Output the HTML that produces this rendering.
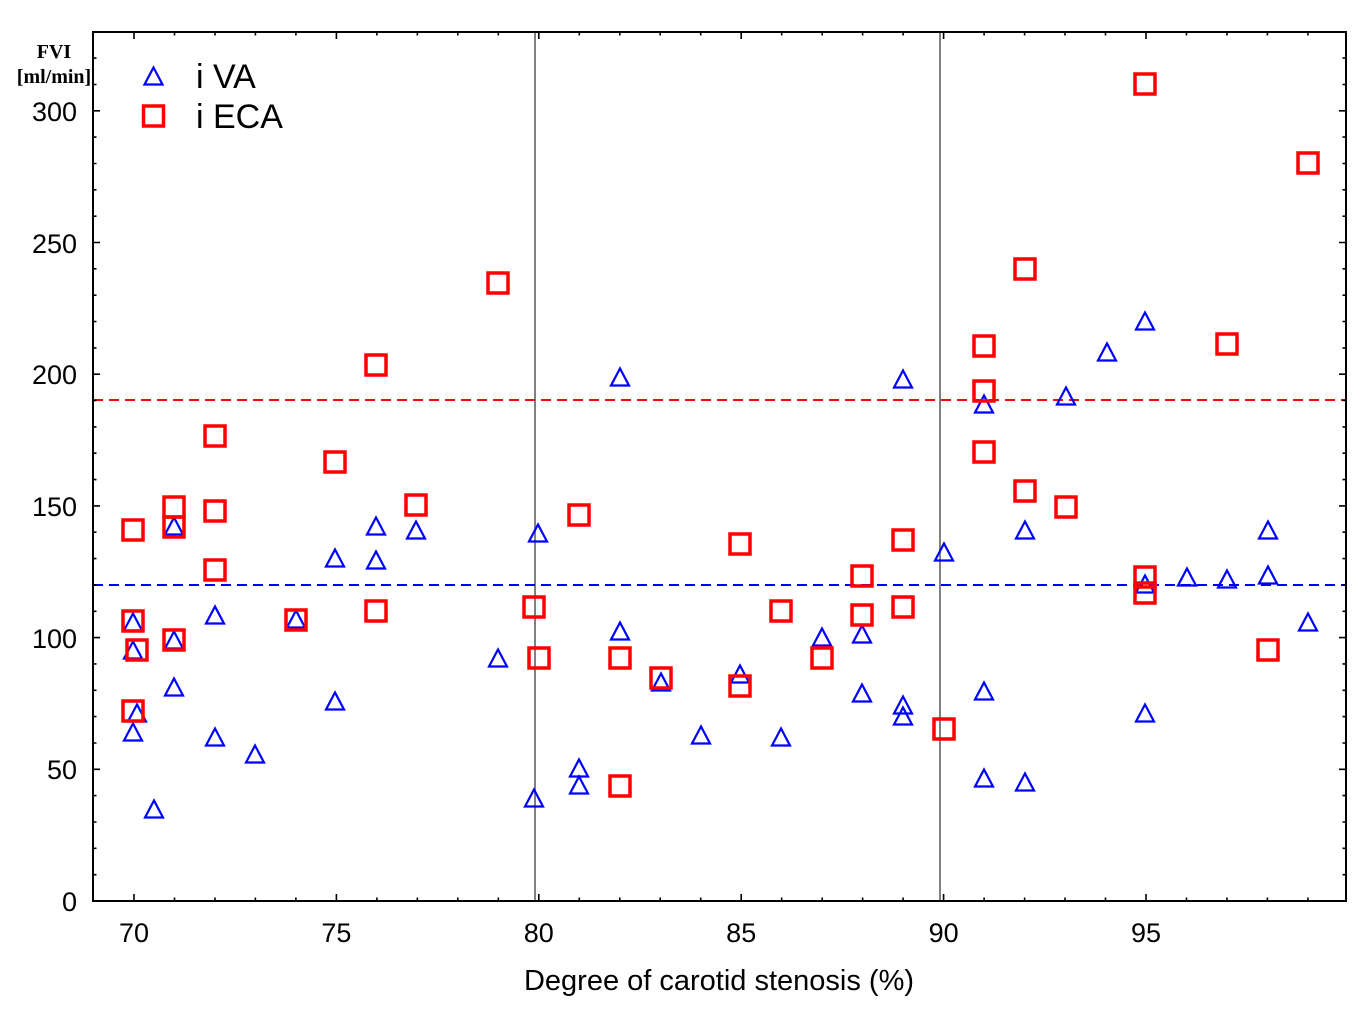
<!DOCTYPE html>
<html><head><meta charset="utf-8">
<style>html,body{margin:0;padding:0;background:#fff}svg{display:block}</style>
</head>
<body>
<svg width="1361" height="1010" viewBox="0 0 1361 1010" xmlns="http://www.w3.org/2000/svg">
<rect x="0" y="0" width="1361" height="1010" fill="#fff"/>
<line x1="535" y1="32" x2="535" y2="901" stroke="#808080" stroke-width="2"/>
<line x1="940" y1="32" x2="940" y2="901" stroke="#808080" stroke-width="2"/>
<line x1="93" y1="400" x2="1346" y2="400" stroke="#ff0000" stroke-width="2" stroke-dasharray="10 6"/>
<line x1="93" y1="585" x2="1346" y2="585" stroke="#0000ff" stroke-width="2" stroke-dasharray="10 6"/>
<g stroke="#000" stroke-width="1.6" fill="none">
<path d="M134 901v-7M174.5 901v-3.5M215 901v-3.5M255.4 901v-3.5M295.9 901v-3.5M336.4 901v-7M376.9 901v-3.5M417.4 901v-3.5M457.8 901v-3.5M498.3 901v-3.5M538.8 901v-7M579.3 901v-3.5M619.8 901v-3.5M660.2 901v-3.5M700.7 901v-3.5M741.2 901v-7M781.7 901v-3.5M822.2 901v-3.5M862.6 901v-3.5M903.1 901v-3.5M943.6 901v-7M984.1 901v-3.5M1024.6 901v-3.5M1065 901v-3.5M1105.5 901v-3.5M1146 901v-7M1186.5 901v-3.5M1227 901v-3.5M1267.4 901v-3.5M1307.9 901v-3.5"/>
<path d="M134 32v7M174.5 32v3.5M215 32v3.5M255.4 32v3.5M295.9 32v3.5M336.4 32v7M376.9 32v3.5M417.4 32v3.5M457.8 32v3.5M498.3 32v3.5M538.8 32v7M579.3 32v3.5M619.8 32v3.5M660.2 32v3.5M700.7 32v3.5M741.2 32v7M781.7 32v3.5M822.2 32v3.5M862.6 32v3.5M903.1 32v3.5M943.6 32v7M984.1 32v3.5M1024.6 32v3.5M1065 32v3.5M1105.5 32v3.5M1146 32v7M1186.5 32v3.5M1227 32v3.5M1267.4 32v3.5M1307.9 32v3.5"/>
<path d="M93 874.7h3.5M93 848.3h3.5M93 822h3.5M93 795.6h3.5M93 769.3h7M93 743h3.5M93 716.6h3.5M93 690.3h3.5M93 663.9h3.5M93 637.6h7M93 611.3h3.5M93 584.9h3.5M93 558.6h3.5M93 532.2h3.5M93 505.9h7M93 479.6h3.5M93 453.2h3.5M93 426.9h3.5M93 400.5h3.5M93 374.2h7M93 347.9h3.5M93 321.5h3.5M93 295.2h3.5M93 268.8h3.5M93 242.5h7M93 216.2h3.5M93 189.8h3.5M93 163.5h3.5M93 137.1h3.5M93 110.8h7M93 84.5h3.5M93 58.1h3.5"/>
<path d="M1346 874.7h-3.5M1346 848.3h-3.5M1346 822h-3.5M1346 795.6h-3.5M1346 769.3h-7M1346 743h-3.5M1346 716.6h-3.5M1346 690.3h-3.5M1346 663.9h-3.5M1346 637.6h-7M1346 611.3h-3.5M1346 584.9h-3.5M1346 558.6h-3.5M1346 532.2h-3.5M1346 505.9h-7M1346 479.6h-3.5M1346 453.2h-3.5M1346 426.9h-3.5M1346 400.5h-3.5M1346 374.2h-7M1346 347.9h-3.5M1346 321.5h-3.5M1346 295.2h-3.5M1346 268.8h-3.5M1346 242.5h-7M1346 216.2h-3.5M1346 189.8h-3.5M1346 163.5h-3.5M1346 137.1h-3.5M1346 110.8h-7M1346 84.5h-3.5M1346 58.1h-3.5"/>
</g>
<rect x="93" y="32" width="1253" height="869" fill="none" stroke="#000" stroke-width="2"/>
<defs>
<polygon id="tri" points="-9,8.5 0,-8.5 9,8.5" fill="none" stroke="#0000ff" stroke-width="2.2" stroke-linejoin="miter"/>
<rect id="sq" x="-10" y="-10" width="20" height="20" fill="none" stroke="#ff0000" stroke-width="3.5"/>
</defs>
<g>
<use href="#tri" x="133" y="622"/>
<use href="#tri" x="133" y="650"/>
<use href="#tri" x="133" y="732"/>
<use href="#tri" x="137" y="713"/>
<use href="#tri" x="154" y="809"/>
<use href="#tri" x="174" y="640"/>
<use href="#tri" x="174" y="526"/>
<use href="#tri" x="174" y="687"/>
<use href="#tri" x="215" y="615"/>
<use href="#tri" x="215" y="737"/>
<use href="#tri" x="255" y="754"/>
<use href="#tri" x="296" y="619"/>
<use href="#tri" x="335" y="558"/>
<use href="#tri" x="335" y="701"/>
<use href="#tri" x="376" y="526"/>
<use href="#tri" x="376" y="560"/>
<use href="#tri" x="416" y="530"/>
<use href="#tri" x="498" y="658"/>
<use href="#tri" x="538" y="533"/>
<use href="#tri" x="534" y="798"/>
<use href="#tri" x="579" y="768"/>
<use href="#tri" x="579" y="785"/>
<use href="#tri" x="620" y="377"/>
<use href="#tri" x="620" y="631"/>
<use href="#tri" x="661" y="682"/>
<use href="#tri" x="701" y="735"/>
<use href="#tri" x="740" y="674"/>
<use href="#tri" x="781" y="737"/>
<use href="#tri" x="822" y="637"/>
<use href="#tri" x="862" y="634"/>
<use href="#tri" x="862" y="693"/>
<use href="#tri" x="903" y="379"/>
<use href="#tri" x="903" y="705"/>
<use href="#tri" x="903" y="716"/>
<use href="#tri" x="944" y="552"/>
<use href="#tri" x="984" y="404"/>
<use href="#tri" x="984" y="691"/>
<use href="#tri" x="984" y="778"/>
<use href="#tri" x="1025" y="530"/>
<use href="#tri" x="1025" y="782"/>
<use href="#tri" x="1066" y="396"/>
<use href="#tri" x="1107" y="352"/>
<use href="#tri" x="1145" y="321"/>
<use href="#tri" x="1145" y="584"/>
<use href="#tri" x="1145" y="713"/>
<use href="#tri" x="1187" y="577"/>
<use href="#tri" x="1227" y="579"/>
<use href="#tri" x="1268" y="530"/>
<use href="#tri" x="1268" y="575"/>
<use href="#tri" x="1308" y="622"/>
</g>
<g>
<use href="#sq" x="133" y="530"/>
<use href="#sq" x="133" y="621"/>
<use href="#sq" x="137" y="650"/>
<use href="#sq" x="133" y="711"/>
<use href="#sq" x="174" y="507"/>
<use href="#sq" x="174" y="527"/>
<use href="#sq" x="174" y="640"/>
<use href="#sq" x="215" y="436"/>
<use href="#sq" x="215" y="511"/>
<use href="#sq" x="215" y="570"/>
<use href="#sq" x="296" y="620"/>
<use href="#sq" x="335" y="462"/>
<use href="#sq" x="376" y="365"/>
<use href="#sq" x="376" y="611"/>
<use href="#sq" x="416" y="505"/>
<use href="#sq" x="498" y="283"/>
<use href="#sq" x="534" y="607"/>
<use href="#sq" x="539" y="658"/>
<use href="#sq" x="579" y="515"/>
<use href="#sq" x="620" y="658"/>
<use href="#sq" x="620" y="786"/>
<use href="#sq" x="661" y="678"/>
<use href="#sq" x="740" y="544"/>
<use href="#sq" x="740" y="686"/>
<use href="#sq" x="781" y="611"/>
<use href="#sq" x="822" y="658"/>
<use href="#sq" x="862" y="576"/>
<use href="#sq" x="862" y="615"/>
<use href="#sq" x="903" y="540"/>
<use href="#sq" x="903" y="607"/>
<use href="#sq" x="944" y="729"/>
<use href="#sq" x="984" y="346"/>
<use href="#sq" x="984" y="391"/>
<use href="#sq" x="984" y="452"/>
<use href="#sq" x="1025" y="269"/>
<use href="#sq" x="1025" y="491"/>
<use href="#sq" x="1066" y="507"/>
<use href="#sq" x="1145" y="84"/>
<use href="#sq" x="1145" y="577"/>
<use href="#sq" x="1145" y="593"/>
<use href="#sq" x="1227" y="344"/>
<use href="#sq" x="1268" y="650"/>
<use href="#sq" x="1308" y="163"/>
</g>
<use href="#tri" x="153.5" y="76"/>
<use href="#sq" x="153.5" y="116"/>
<g font-family="'Liberation Sans', Arial, sans-serif" font-size="34" fill="#000">
<text x="196" y="88">i VA</text>
<text x="196" y="128">i ECA</text>
</g>
<g font-family="'Liberation Serif', 'Times New Roman', serif" font-weight="bold" font-size="20" fill="#000" text-anchor="middle">
<text x="54" y="58">FVI</text>
<text x="54" y="83">[ml/min]</text>
</g>
<g font-family="'Liberation Sans', Arial, sans-serif" font-size="27" fill="#000" text-anchor="end">
<text x="77" y="911">0</text>
<text x="77" y="779">50</text>
<text x="77" y="648">100</text>
<text x="77" y="516">150</text>
<text x="77" y="384">200</text>
<text x="77" y="253">250</text>
<text x="77" y="121">300</text>
</g>
<g font-family="'Liberation Sans', Arial, sans-serif" font-size="27" fill="#000" text-anchor="middle">
<text x="134" y="942">70</text>
<text x="336.4" y="942">75</text>
<text x="538.8" y="942">80</text>
<text x="741.2" y="942">85</text>
<text x="943.6" y="942">90</text>
<text x="1146" y="942">95</text>
</g>
<text x="719" y="990" font-family="'Liberation Sans', Arial, sans-serif" font-size="29" fill="#000" text-anchor="middle">Degree of carotid stenosis (%)</text>
</svg>
</body></html>
